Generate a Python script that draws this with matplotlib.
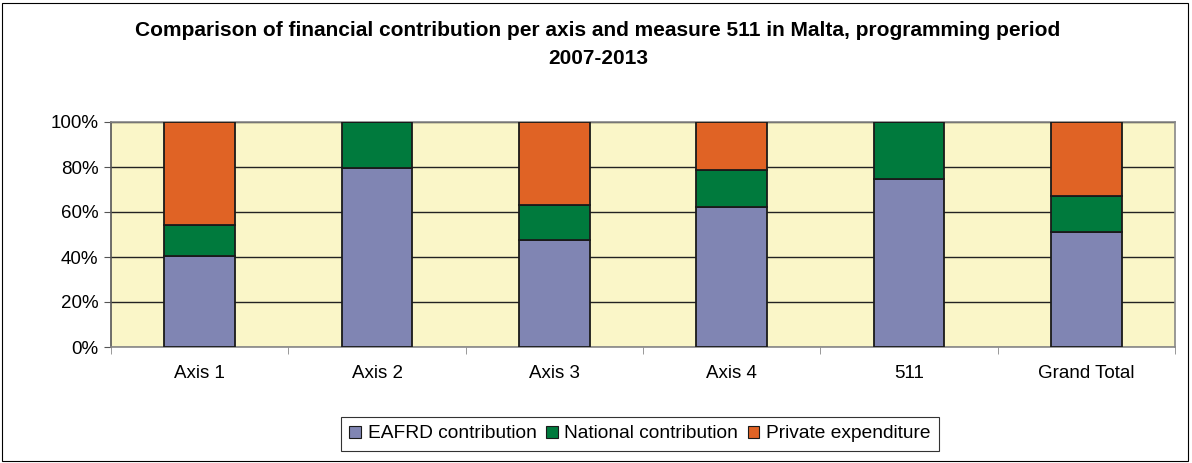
import matplotlib
matplotlib.use("Agg")
import matplotlib.pyplot as plt
import numpy as np
from matplotlib.patches import Rectangle
from matplotlib.ticker import FuncFormatter

categories = ["Axis 1", "Axis 2", "Axis 3", "Axis 4", "511", "Grand Total"]
eafrd = [40.5, 79.5, 47.6, 62.3, 74.6, 51.1]
national = [13.7, 20.5, 15.6, 16.3, 25.4, 16.1]
private = [45.8, 0.0, 36.8, 21.4, 0.0, 32.8]
series_names = ["EAFRD contribution", "National contribution", "Private expenditure"]
colors = ["#8085B3", "#007A3D", "#E06325"]

plt.rcParams['font.family'] = ['Liberation Sans', 'DejaVu Sans']

fig = plt.figure(figsize=(11.92, 4.63), dpi=100)
fig.patches.append(Rectangle((0.002, 0.004), 0.995, 0.99, transform=fig.transFigure,
                             fill=False, edgecolor='black', linewidth=0.8))
ax = fig.add_axes([111/1192, 1 - 347/463, (1175-111)/1192, (347-122)/463])
ax.set_facecolor("#FAF6C8")

x = np.arange(len(categories))
bottom = np.zeros(len(categories))
for vals, name, c in zip([eafrd, national, private], series_names, colors):
    ax.bar(x, vals, 0.4, bottom=bottom, color=c, edgecolor='#1a1a1a', linewidth=1.3,
           label=name, zorder=3)
    bottom += np.array(vals)

ax.set_xlim(-0.5, len(categories) - 0.5)
ax.set_ylim(0, 100)
ax.set_yticks(np.arange(0, 101, 20))
ax.yaxis.set_major_formatter(FuncFormatter(lambda v, p: f"{int(v)}%"))
ax.yaxis.grid(True, color='#222222', linewidth=1.0, zorder=1)
ax.set_axisbelow(True)
ax.set_xticks(x)
ax.set_xticklabels(categories, fontsize=13.5)
ax.set_xticks(np.arange(-0.5, len(categories), 1), minor=True)
ax.tick_params(axis='x', which='major', length=0, pad=13)
ax.tick_params(axis='x', which='minor', length=5, color='#888888', direction='out')
ax.tick_params(axis='y', labelsize=13.5, length=5, color='#555555', direction='out', pad=4)
ax.spines['top'].set_color('#888888')
ax.spines['right'].set_color('#888888')
ax.spines['left'].set_color('#555555')
ax.spines['bottom'].set_color('#888888')
for s in ax.spines.values():
    s.set_linewidth(1.2)

fig.text(598/1192, 1 - 44/463, "Comparison of financial contribution per axis and measure 511 in Malta, programming period\n2007-2013",
         ha='center', va='center', fontsize=15, fontweight='bold', linespacing=1.6)

leg = fig.legend(loc='center', bbox_to_anchor=(640/1192, 1 - 434/463), ncol=3, fontsize=13.8,
                 frameon=True, fancybox=False, edgecolor='black', handlelength=0.6,
                 handleheight=0.6, handletextpad=0.35, columnspacing=0.5, borderpad=0.45)
leg.get_frame().set_linewidth(0.8)
for h in leg.legend_handles:
    h.set_linewidth(0.8)

fig.savefig("out.png", dpi=100)
